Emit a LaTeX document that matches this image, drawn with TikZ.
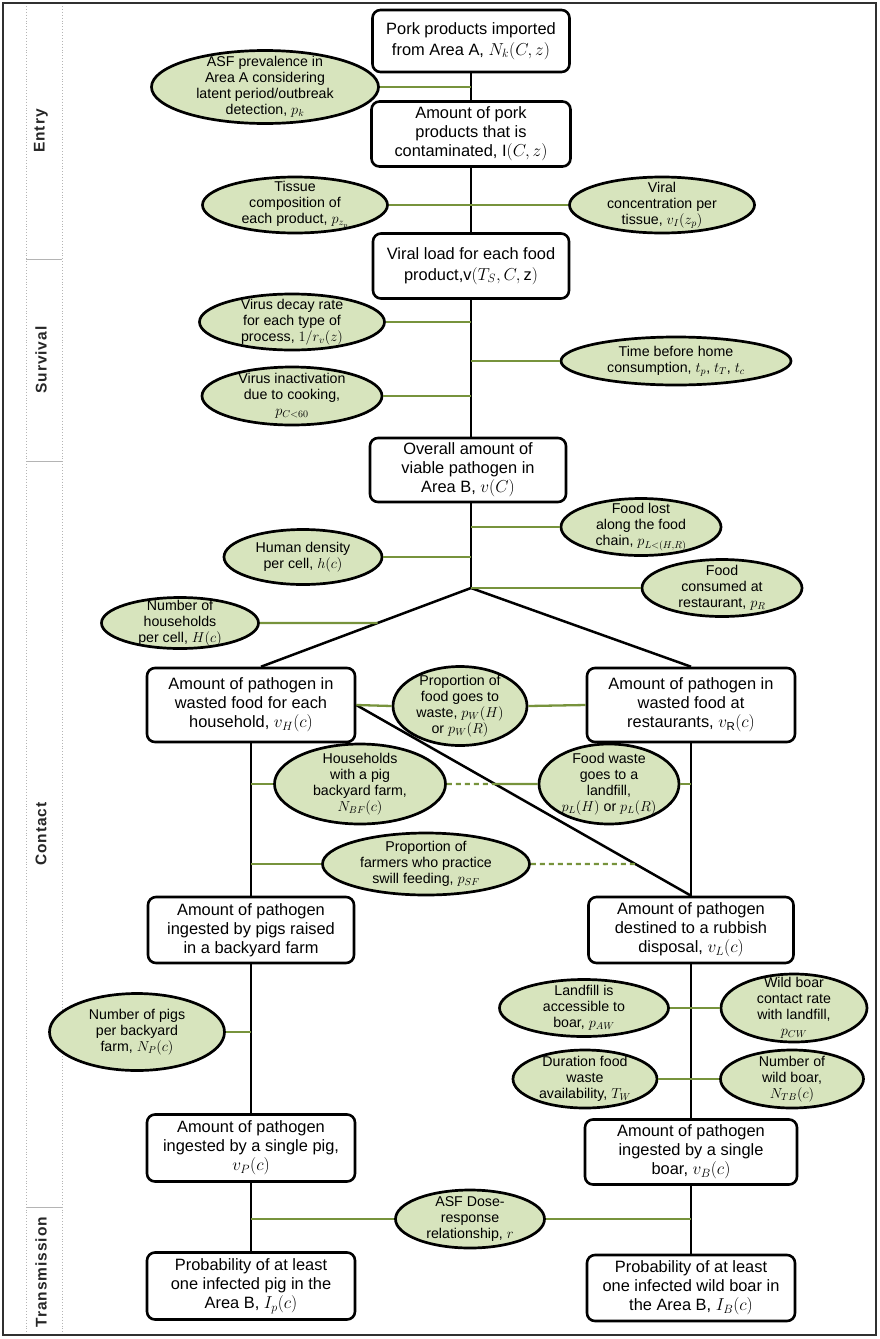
\documentclass[tikz,border=0pt]{standalone}
\usepackage{fontspec}
\setmainfont{Liberation Sans}
\newfontfamily\lblfont[LetterSpace=6]{Liberation Sans}
\usetikzlibrary{shapes.geometric}
\definecolor{ellfill}{HTML}{D7E4BD}
\definecolor{gline}{HTML}{77933C}
\definecolor{framecol}{HTML}{303030}
\definecolor{sepgray}{HTML}{B4B4B4}
\tikzset{
 boxnode/.style={draw=black, line width=2.6pt, rounded corners=8pt, fill=white, align=center, inner sep=1pt, font=\fontsize{16.4}{19}\selectfont},
 ellnode/.style={ellipse, draw=black, line width=2.7pt, fill=ellfill, inner sep=0pt},
 elltext/.style={align=center, inner sep=0pt, font=\fontsize{14.2}{16}\selectfont},
 spine/.style={draw=black, line width=2.5pt},
 gconn/.style={draw=gline, line width=2.3pt},
 gdash/.style={draw=gline, line width=2.3pt, dash pattern=on 5pt off 4pt},
 seclabel/.style={rotate=90, font=\lblfont\bfseries\fontsize{15.5}{18}\selectfont, text=black!85},
}
\newcommand\mkbox[6]{\node[boxnode, minimum width=#4pt, minimum height=#5pt] (#1) at (#2,#3) {#6};}
\newcommand\mkell[6]{\node[ellnode, minimum width=#4pt, minimum height=#5pt] (#1) at (#2,#3) {}; \node[elltext] (#1t) at (#1.center) {#6};}
\begin{document}
\begin{tikzpicture}[x=1pt,y=-1pt]
\useasboundingbox (0,0) rectangle (880,1339);
% frame and section column
\draw[framecol, line width=2.2pt] (3,3) rectangle (876,1335);
\draw[sepgray, dotted, line width=0.9pt] (26,6) -- (26,1333);
\draw[sepgray, dotted, line width=0.9pt] (62,6) -- (62,1333);
\draw[sepgray, line width=0.9pt] (26,259) -- (62,259);
\draw[sepgray, line width=0.9pt] (26,461) -- (62,461);
\draw[sepgray, line width=0.9pt] (26,1207) -- (62,1207);
\node[seclabel] (lentry) at (41,131) {Entry};
\node[seclabel] (lsurv) at (41,360) {Survival};
\node[seclabel] (lcont) at (41,834) {Contact};
\node[seclabel] (ltrans) at (41,1272) {Transmission};
% boxes
\mkbox{B1}{471}{41}{197}{62}{Pork products imported\\[2pt]from Area A, $N_k(C,z)$}
\mkbox{B2}{471}{134}{199}{65}{Amount of pork\\products that is\\contaminated, $\mathrm{I}(C,z)$}
\mkbox{B3}{471}{266}{196}{65}{Viral load for each food\\[2pt]product,$\mathrm{v}(T_S,C,\mathrm{z})$}
\mkbox{B4}{468}{470}{196}{64}{Overall amount of\\viable pathogen in\\Area B, $v(C)$}
\mkbox{B5}{251}{705}{208}{74}{Amount of pathogen in\\wasted food for each\\household, $v_H(c)$}
\mkbox{B6}{691}{705}{208}{74}{Amount of pathogen in\\wasted food at\\restaurants, $v_{\mathrm{R}}(c)$}
\mkbox{B7}{251}{930}{206}{66}{Amount of pathogen\\ingested by pigs raised\\in a backyard farm}
\mkbox{B8}{691}{930}{205}{66}{Amount of pathogen\\destined to a rubbish\\disposal, $v_L(c)$}
\mkbox{B9}{251}{1148}{208}{67}{Amount of pathogen\\ingested by a single pig,\\$v_P(c)$}
\mkbox{B10}{691}{1152}{212}{65}{Amount of pathogen\\ingested by a single\\boar, $v_B(c)$}
\mkbox{B11}{251}{1286}{208}{67}{Probability of at least\\one infected pig in the\\Area B, $I_p(c)$}
\mkbox{B12}{691}{1288}{208}{66}{Probability of at least\\one infected wild boar in\\the Area B, $I_B(c)$}
% ellipses
\mkell{E1}{265}{87}{227}{73}{ASF prevalence in\\Area A considering\\latent period/outbreak\\detection, $p_k$}
\mkell{E2}{295}{205}{185}{56}{Tissue\\composition of\\each product, $p_{z_p}$}
\mkell{E3}{662}{205}{185}{56}{Viral\\concentration per\\tissue, $v_I(z_p)$}
\mkell{E4}{292}{322}{185}{56}{Virus decay rate\\for each type of\\process, $1/r_v(z)$}
\mkell{E5}{292}{396}{180}{58}{Virus inactivation\\due to cooking,\\$p_{C<60}$}
\mkell{E6}{676}{361}{230}{48}{Time before home\\consumption, $t_p$, $t_T$, $t_c$}
\mkell{E7}{641}{527}{160}{57}{Food lost\\along the food\\chain, $p_{L<(H,R)}$}
\mkell{E8}{303}{557}{158}{55}{Human density\\per cell, $h(c)$}
\mkell{E9}{722}{588}{160}{57}{Food\\consumed at\\restaurant, $p_R$}
\mkell{E10}{180}{623}{157}{51}{Number of\\households\\per cell, $H(c)$}
\mkell{E11}{460}{706}{134}{79}{Proportion of\\food goes to\\waste, $p_W(H)$\\or $p_W(R)$}
\mkell{E12}{360}{784}{171}{80}{Households\\with a pig\\backyard farm,\\$N_{BF}(c)$}
\mkell{E13}{609}{784}{140}{80}{Food waste\\goes to a\\landfill,\\$p_L(H)$ or $p_L(R)$}
\mkell{E14}{426}{864}{207}{62}{Proportion of\\farmers who practice\\swill feeding, $p_{SF}$}
\mkell{E15}{137}{1032}{175}{77}{Number of pigs\\per backyard\\farm, $N_P(c)$}
\mkell{E16}{584}{1008}{169}{57}{Landfill is\\accessible to\\boar, $p_{AW}$}
\mkell{E17}{794}{1008}{146}{68}{Wild boar\\contact rate\\with landfill,\\$p_{CW}$}
\mkell{E18}{585}{1079}{144}{58}{Duration food\\waste\\availability, $T_W$}
\mkell{E19}{792}{1079}{143}{58}{Number of\\wild boar,\\$N_{TB}(c)$}
\mkell{E20}{470}{1219}{149}{58}{ASF Dose-\\response\\relationship, $r$}
% main spine
\coordinate (split) at (471,588);
\draw[spine] (B1.south) -- (B2.north);
\draw[spine] (B2.south) -- (B3.north);
\draw[spine] (B3.south) -- (B3.south |- B4.north);
\draw[spine] (B3.south |- B4.south) -- (split);
\coordinate (l5top) at ([xshift=10pt]B5.north);
\draw[spine] (split) -- (l5top);
\draw[spine] (split) -- (B6.north);
\coordinate (dA) at (B5.east);
\coordinate (dB) at (B8.north);
\draw[spine] (dA) -- (dB);
\draw[spine] (B5.south) -- (B7.north);
\draw[spine] (B6.south) -- (B8.north);
\draw[spine] (B7.south) -- (B9.north);
\draw[spine] (B8.south) -- (B10.north);
\draw[spine] (B9.south) -- (B11.north);
\draw[spine] (B10.south) -- (B12.north);
% green connectors
\draw[gconn] (E1.east) -- (E1.east -| B1.south);
\draw[gconn] (E2.east) -- (E2.east -| B2.south);
\draw[gconn] (E3.west) -- (E3.west -| B2.south);
\draw[gconn] (E4.east) -- (E4.east -| B3.south);
\draw[gconn] (E5.east) -- (E5.east -| B3.south);
\draw[gconn] (E6.west) -- (E6.west -| B3.south);
\draw[gconn] (E7.west) -- (E7.west -| split);
\draw[gconn] (E8.east) -- (E8.east -| split);
\draw[gconn] (E9.west) -- (split);
\coordinate (e10a) at (E10.east);
\coordinate (e10b) at (E10.east -| split);
\coordinate (x10) at (intersection of split--l5top and e10a--e10b);
\draw[gconn] (e10a) -- (x10);
\draw[gconn] (B5.east) -- (E11.west);
\draw[gconn] (E11.east) -- (B6.west);
\draw[gconn] (E12.west) -- (E12.west -| B5.south);
\coordinate (e12r) at (E12.east);
\coordinate (e13l) at (E13.west);
\coordinate (x12) at (intersection of dA--dB and e12r--e13l);
\draw[gdash] (e12r) -- (x12);
\draw[gconn] (x12) -- (e13l);
\draw[gconn] (E13.east) -- (E13.east -| B6.south);
\draw[gconn] (E14.west) -- (E14.west -| B5.south);
\coordinate (e14r) at (E14.east);
\coordinate (e14f) at ([xshift=250pt]E14.east);
\coordinate (x14) at (intersection of dA--dB and e14r--e14f);
\draw[gdash] (e14r) -- (x14);
\draw[gconn] (E15.east) -- (E15.east -| B7.south);
\draw[gconn] (E16.east) -- (E16.east -| B8.south);
\draw[gconn] (E17.west) -- (E17.west -| B8.south);
\draw[gconn] (E18.east) -- (E18.east -| B8.south);
\draw[gconn] (E19.west) -- (E19.west -| B8.south);
\draw[gconn] (E20.west) -- (E20.west -| B9.south);
\draw[gconn] (E20.east) -- (E20.east -| B10.south);
\end{tikzpicture}
\end{document}
